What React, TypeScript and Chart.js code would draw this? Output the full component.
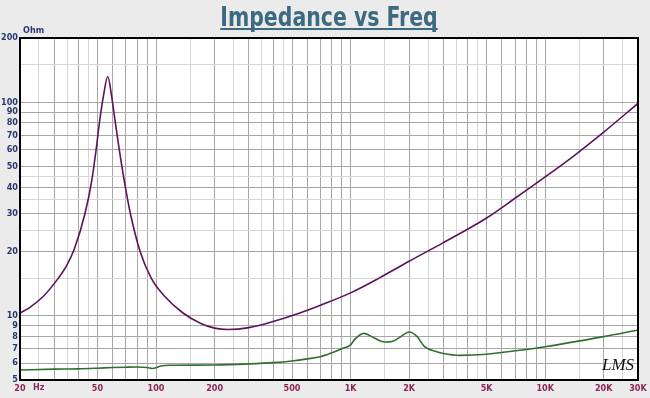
import React, { useEffect, useRef } from "react";
import { Chart, registerables } from "chart.js";

Chart.register(...registerables);

// ---- data ----
const impedanceFreq = [
  20, 22.5, 26.3, 31.5, 34.5, 38, 43.2, 46.8, 49.2, 51.4, 53.6, 56.5,
  59.2, 61.5, 64.8, 68.6, 73.8, 82.7, 94.5, 111, 137.6, 170, 200, 234, 300, 400,
  549, 700, 1000, 1400, 2000, 3000, 5000, 7000, 10000, 14000, 20000, 30000,
];
const impedanceOhm = [
  10.3, 10.95, 12.3, 15, 17.0, 20.5, 30.2, 43.2, 59.7, 82.6, 106, 132,
  106, 82.6, 59.7, 43.2, 30.2, 20.1, 15, 12.3, 10.3, 9.2, 8.75, 8.62, 8.8, 9.4,
  10.3, 11.2, 12.8, 15, 18, 22, 28.7, 35.5, 44.7, 56, 72.5, 98.8,
];

const secondFreq = [
  20, 30, 40, 50, 60, 70, 80, 90, 96, 100, 106, 120, 200, 300, 400, 500, 600,
  700, 800, 900, 1000, 1050, 1170, 1330, 1500, 1650, 1800, 2000, 2200, 2400,
  2770, 3000, 3650, 5000, 7000, 10000, 20000, 30000,
];
const secondOhm = [
  5.57, 5.62, 5.64, 5.68, 5.72, 5.74, 5.75, 5.72, 5.66, 5.7, 5.82, 5.86, 5.88,
  5.95, 6.03, 6.14, 6.28, 6.43, 6.7, 7.0, 7.3, 7.75, 8.27, 7.84, 7.53, 7.6,
  7.95, 8.39, 7.98, 7.16, 6.78, 6.65, 6.52, 6.6, 6.85, 7.16, 7.98, 8.57,
];

const xGridValues = [
  20, 25, 30, 35, 40, 45, 50, 60, 70, 80, 90, 100, 150, 200, 250, 300, 350, 400,
  450, 500, 600, 700, 800, 900, 1000, 1500, 2000, 2500, 3000, 3500, 4000, 4500,
  5000, 6000, 7000, 8000, 9000, 10000, 15000, 20000, 25000, 30000,
];
const xLabelValues = [20, 50, 100, 200, 500, 1000, 2000, 5000, 10000, 20000, 30000];
const xLabelTexts = ["20", "50", "100", "200", "500", "1K", "2K", "5K", "10K", "20K", "30K"];

const yGridValues = [
  5, 6, 7, 8, 9, 10, 15, 20, 25, 30, 35, 40, 45, 50, 60, 70, 80, 90, 100, 150, 200,
];
const yLabelValues = [5, 6, 7, 8, 9, 10, 20, 30, 40, 50, 60, 70, 80, 90, 100, 200];

const TITLE = "Impedance vs Freq";
const TITLE_FONT = '"Liberation Sans Narrow", "DejaVu Sans Condensed", "Roboto", sans-serif';
const LABEL_FONT = '"Liberation Sans Narrow", "DejaVu Sans Condensed", sans-serif';
const TITLE_COLOR = "#3c6a80";
const Y_COLOR = "#24386e";
const X_COLOR = "#8c2456";

function isMinor(v: number): boolean {
  const m = v / Math.pow(10, Math.floor(Math.log10(v) + 1e-9));
  const r = Math.round(m * 10) / 10;
  return r === 1.5 || r === 2.5 || r === 3.5 || r === 4.5;
}

function labelFor(v: number, values: number[], texts: string[]): string {
  for (let i = 0; i < values.length; i++) {
    if (Math.abs(values[i] - v) < 1e-6 * v) return texts[i];
  }
  return "";
}

const decorPlugin = {
  id: "decor",
  beforeDraw(chart: any) {
    const { ctx, chartArea: a, width, height } = chart;
    ctx.save();
    ctx.fillStyle = "#ebebeb";
    ctx.fillRect(0, 0, width, height);
    ctx.fillStyle = "#ffffff";
    ctx.fillRect(a.left, a.top, a.right - a.left, a.bottom - a.top);
    ctx.restore();
  },
  afterDraw(chart: any) {
    const { ctx, chartArea: a, width } = chart;
    const xs = chart.scales.x;
    ctx.save();
    // plot frame
    ctx.strokeStyle = "#000000";
    ctx.lineWidth = 2;
    ctx.strokeRect(a.left, a.top, a.right - a.left, a.bottom - a.top);

    // title (horizontally condensed) with underline
    const sx = 0.875;
    ctx.font = `bold 26px ${TITLE_FONT}`;
    const w = ctx.measureText(TITLE).width * sx;
    const cx = width / 2 + 4;
    ctx.save();
    ctx.translate(cx, 26);
    ctx.scale(sx, 1);
    ctx.fillStyle = TITLE_COLOR;
    ctx.textAlign = "center";
    ctx.textBaseline = "alphabetic";
    ctx.fillText(TITLE, 0, 0);
    ctx.restore();
    ctx.fillStyle = TITLE_COLOR;
    ctx.fillRect(cx - w / 2, 28, w, 2);

    // axis unit labels
    ctx.font = `bold 9px ${LABEL_FONT}`;
    ctx.textBaseline = "middle";
    ctx.textAlign = "left";
    ctx.fillStyle = Y_COLOR;
    ctx.fillText("Ohm", a.left + 3, 31);
    ctx.fillStyle = X_COLOR;
    ctx.fillText("Hz", xs.getPixelForValue(20) + 13, a.bottom + 8);

    // signature
    ctx.font = 'italic 17px "Liberation Serif", "DejaVu Serif", serif';
    ctx.fillStyle = "#111111";
    ctx.textAlign = "center";
    ctx.fillText("LMS", a.right - 20, a.bottom - 14);
    ctx.restore();
  },
};

export default function App() {
  const ref = useRef<HTMLCanvasElement | null>(null);

  useEffect(() => {
    document.body.style.margin = "0";
    document.body.style.background = "#ebebeb";
    const canvas = ref.current;
    if (!canvas) return;

    const chart = new Chart(canvas, {
      type: "line",
      data: {
        datasets: [
          {
            label: "Impedance",
            data: impedanceFreq.map((f, i) => ({ x: f, y: impedanceOhm[i] })),
            borderColor: "#5c125c",
            borderWidth: 1.6,
            pointRadius: 0,
            cubicInterpolationMode: "monotone",
            fill: false,
          },
          {
            label: "Second",
            data: secondFreq.map((f, i) => ({ x: f, y: secondOhm[i] })),
            borderColor: "#2f6f2f",
            borderWidth: 1.6,
            pointRadius: 0,
            cubicInterpolationMode: "monotone",
            fill: false,
          },
        ],
      },
      options: {
        animation: false,
        responsive: false,
        maintainAspectRatio: false,
        layout: { padding: { left: 0, right: 12, top: 38, bottom: 0 } },
        plugins: {
          legend: { display: false },
          tooltip: { enabled: false },
          title: { display: false },
        },
        scales: {
          x: {
            type: "logarithmic",
            min: 20,
            max: 30000,
            afterBuildTicks: (scale: any) => {
              scale.ticks = xGridValues.map((v) => ({ value: v }));
            },
            afterFit: (scale: any) => {
              scale.height = 18;
            },
            ticks: {
              autoSkip: false,
              maxRotation: 0,
              padding: 3,
              color: X_COLOR,
              font: { family: LABEL_FONT, size: 9, weight: "bold" },
              callback: (v: any) => labelFor(Number(v), xLabelValues, xLabelTexts),
            },
            grid: {
              drawTicks: false,
              lineWidth: 1,
              color: (c: any) => (c.tick && isMinor(c.tick.value) ? "#d6d6d6" : "#a6a6a6"),
            },
            border: { display: false },
          },
          y: {
            type: "logarithmic",
            min: 5,
            max: 200,
            afterBuildTicks: (scale: any) => {
              scale.ticks = yGridValues.map((v) => ({ value: v }));
            },
            afterFit: (scale: any) => {
              scale.width = 20;
            },
            ticks: {
              autoSkip: false,
              padding: 2,
              color: Y_COLOR,
              font: { family: LABEL_FONT, size: 9, weight: "bold" },
              callback: (v: any) => {
                const n = Number(v);
                return yLabelValues.some((y) => Math.abs(y - n) < 1e-6) ? String(n) : "";
              },
            },
            grid: {
              drawTicks: false,
              lineWidth: 1,
              color: (c: any) => (c.tick && isMinor(c.tick.value) ? "#d6d6d6" : "#a6a6a6"),
            },
            border: { display: false },
          },
        },
      },
      plugins: [decorPlugin],
    } as any);

    return () => chart.destroy();
  }, []);

  return (
    <div style={{ width: 650, height: 398, background: "#ebebeb" }}>
      <canvas ref={ref} width={650} height={398} style={{ display: "block", width: 650, height: 398 }} />
    </div>
  );
}
